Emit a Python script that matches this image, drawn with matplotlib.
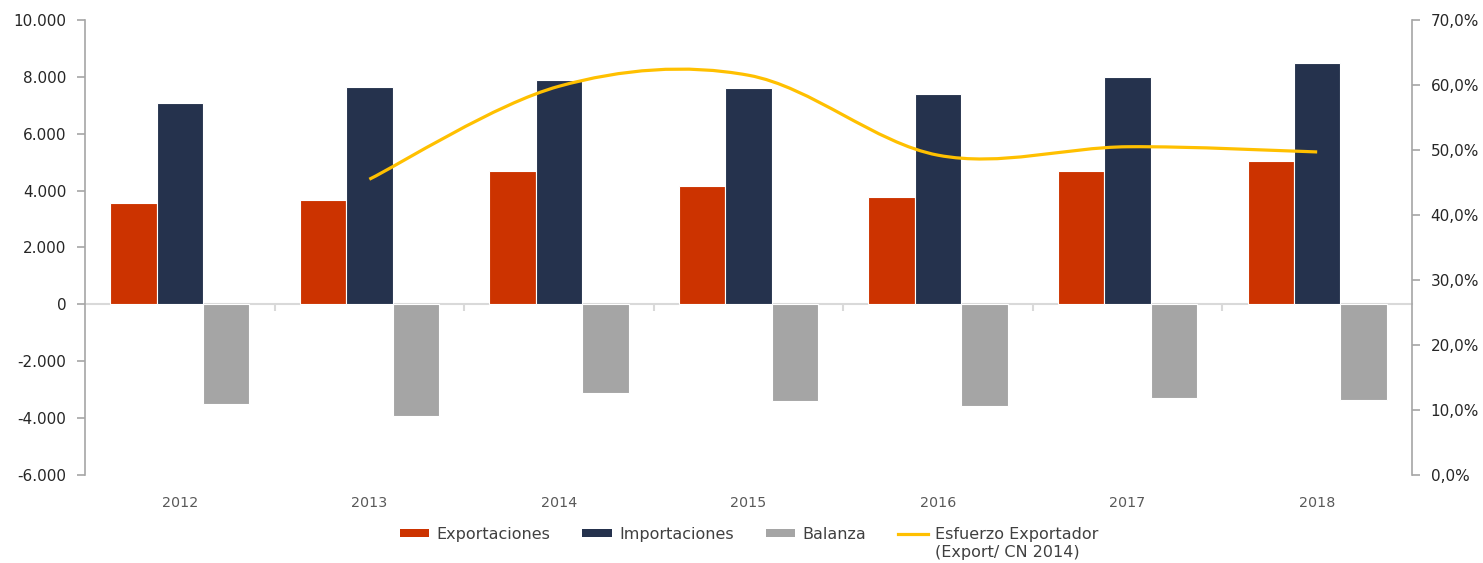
import matplotlib
matplotlib.use("Agg")
import matplotlib.pyplot as plt
from matplotlib.path import Path
from matplotlib.patches import PathPatch, Patch
from matplotlib.lines import Line2D
from matplotlib.ticker import FuncFormatter, FixedLocator
import numpy as np

plt.rcParams['font.family'] = ['DejaVu Sans']

# --- data (millones de euros / % sobre CN 2014) ---
years = ['2012', '2013', '2014', '2015', '2016', '2017', '2018']
exportaciones = [3560, 3660, 4680, 4150, 3770, 4680, 5030]
importaciones = [7070, 7640, 7890, 7600, 7390, 7990, 8480]
balanza = [-3490, -3910, -3130, -3410, -3590, -3280, -3380]
# esfuerzo exportador starts in 2013
esfuerzo_years = ['2013', '2014', '2015', '2016', '2017', '2018']
esfuerzo = [45.5, 59.8, 61.5, 49.2, 50.5, 49.7]

C_EXP = '#CC3300'
C_IMP = '#25324D'
C_BAL = '#A5A5A5'
C_LINE = '#FFC000'
C_AXIS = '#A6A6A6'
C_ZERO = '#D9D9D9'


def smooth_path(xs, ys):
    """Bezier path through the points, Catmull-Rom style (like spreadsheet smoothed lines)."""
    pts = np.column_stack([xs, ys]).astype(float)
    n = len(pts)
    verts = [pts[0]]
    codes = [Path.MOVETO]
    for i in range(n - 1):
        p0 = pts[i - 1] if i > 0 else pts[i]
        p1 = pts[i]
        p2 = pts[i + 1]
        p3 = pts[i + 2] if i + 2 < n else pts[i + 1]
        c1 = p1 + (p2 - p0) / 6.0
        c2 = p2 - (p3 - p1) / 6.0
        verts += [c1, c2, p2]
        codes += [Path.CURVE4] * 3
    return Path(verts, codes)


fig = plt.figure(figsize=(14.83, 5.63), dpi=100)
ax = fig.add_axes([0.0573, 0.1563, 0.8948, 0.8082])

x = np.arange(len(years))
w = 0.245
ax.bar(x - w, exportaciones, w, color=C_EXP, edgecolor='white', linewidth=0.8, zorder=3)
ax.bar(x, importaciones, w, color=C_IMP, edgecolor='white', linewidth=0.8, zorder=3)
ax.bar(x + w, balanza, w, color=C_BAL, edgecolor='white', linewidth=0.8, zorder=3)

ymin, ymax = -6000, 10000
ax.set_ylim(ymin, ymax)
ax.set_xlim(-0.5, len(years) - 0.5)
ax.set_yticks(np.arange(ymin, ymax + 1, 2000))
ax.yaxis.set_major_formatter(FuncFormatter(lambda v, p: f"{v:,.0f}".replace(',', '.')))

for s in ['top', 'right', 'bottom']:
    ax.spines[s].set_visible(False)
ax.spines['left'].set_color(C_AXIS)
ax.spines['left'].set_linewidth(1.2)
ax.tick_params(axis='y', colors=C_AXIS, length=5.5, width=1.2, pad=8,
               labelcolor='#262626', labelsize=11)

# category labels under the plot area
ax.set_xticks(x)
ax.set_xticklabels(years)
ax.tick_params(axis='x', length=0, pad=15, labelcolor='#595959', labelsize=10.3)

# zero line with category separators
zero_pos = (0 - ymin) / (ymax - ymin)
zax = ax.secondary_xaxis(zero_pos)
zax.spines['bottom'].set_color(C_ZERO)
zax.spines['bottom'].set_linewidth(1.5)
zax.xaxis.set_major_locator(FixedLocator(np.arange(0.5, len(years) - 1, 1.0)))
zax.tick_params(axis='x', direction='out', length=5, width=1.5, colors=C_ZERO,
                labelbottom=False)

# right axis: esfuerzo exportador
ax2 = ax.twinx()
ax2.set_ylim(0, 70)
ax2.set_yticks(np.arange(0, 71, 10))
ax2.yaxis.set_major_formatter(FuncFormatter(lambda v, p: f"{v:.1f}%".replace('.', ',')))
for s in ['top', 'left', 'bottom']:
    ax2.spines[s].set_visible(False)
ax2.spines['right'].set_color(C_AXIS)
ax2.spines['right'].set_linewidth(1.2)
ax2.tick_params(axis='y', colors=C_AXIS, length=5.5, width=1.2, pad=8,
                labelcolor='#262626', labelsize=11)

ex = [years.index(y) for y in esfuerzo_years]
ax2.add_patch(PathPatch(smooth_path(ex, esfuerzo), facecolor='none',
                        edgecolor=C_LINE, linewidth=2.3, capstyle='butt', zorder=4))

handles = [
    Patch(facecolor=C_EXP, edgecolor='none'),
    Patch(facecolor=C_IMP, edgecolor='none'),
    Patch(facecolor=C_BAL, edgecolor='none'),
    Line2D([0], [0], color=C_LINE, linewidth=2.3),
]
labels = ['Exportaciones', 'Importaciones', 'Balanza', 'Esfuerzo Exportador']
leg = fig.legend(handles, labels, loc='center', bbox_to_anchor=(0.505, 0.0515),
                 ncol=4, frameon=False, fontsize=11.5, handlelength=1.85,
                 handleheight=0.4, handletextpad=0.45, columnspacing=2.0,
                 labelcolor='#404040')

# second line of the last legend entry
fig.canvas.draw()
bb = leg.get_texts()[3].get_window_extent()
inv = fig.transFigure.inverted()
x0, y0 = inv.transform((bb.x0, bb.y0))
fig.text(x0, y0 - 3 / 563, '(Export/ CN 2014)', fontsize=11.5, color='#404040',
         ha='left', va='top')

fig.savefig('out.png', dpi=100)
